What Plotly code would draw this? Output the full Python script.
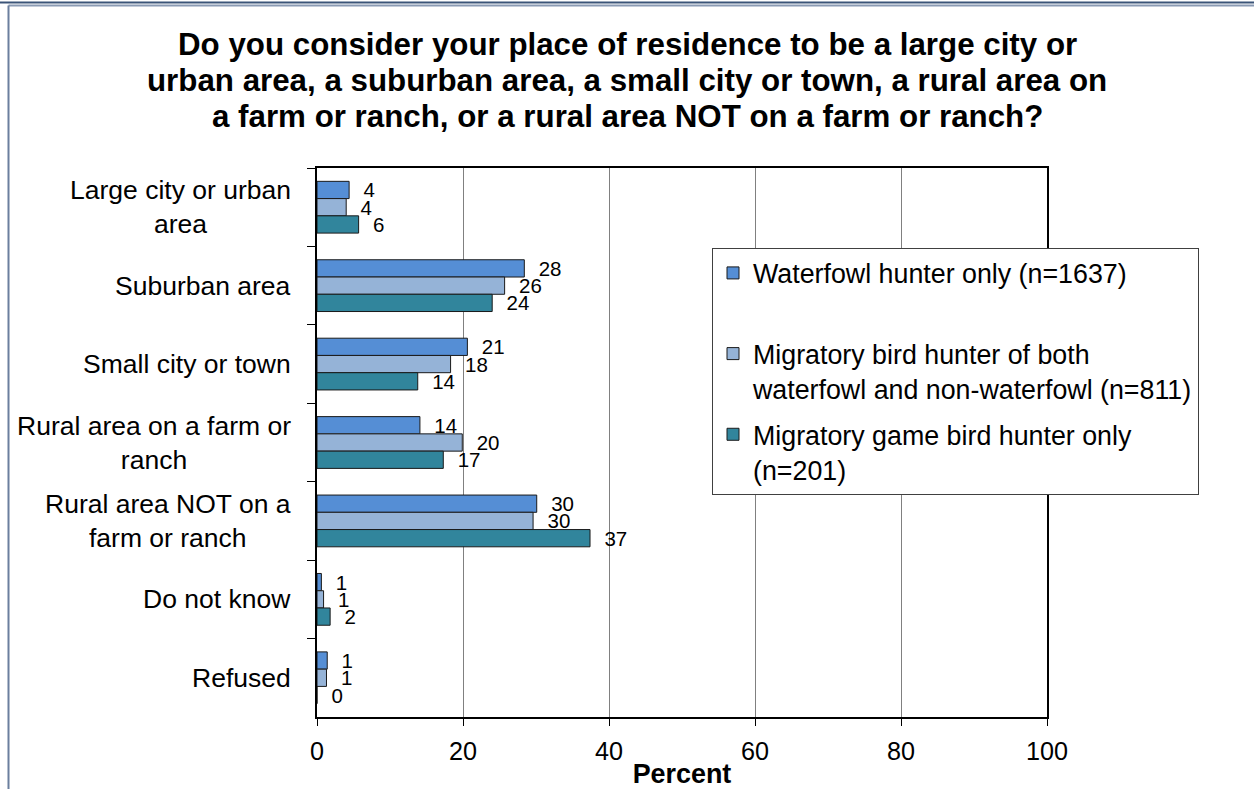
import plotly.graph_objects as go

# ---- data ----
categories = ["Large city or urban area", "Suburban area", "Small city or town",
              "Rural area on a farm or ranch", "Rural area NOT on a farm or ranch",
              "Do not know", "Refused"]
category_labels = ["Large city or urban<br>area", "Suburban area", "Small city or town",
                   "Rural area on a farm or<br>ranch", "Rural area NOT on a<br>farm or ranch",
                   "Do not know", "Refused"]
waterfowl_only = [4.4, 28.4, 20.6, 14.1, 30.1, 0.6, 1.4]
both_types = [4.0, 25.7, 18.3, 19.9, 29.6, 0.9, 1.3]
game_bird_only = [5.7, 24.0, 13.8, 17.3, 37.4, 1.8, 0.0]
series_names = ["Waterfowl hunter only (n=1637)<br>\u00a0",
                "Migratory bird hunter of both<br>waterfowl and non-waterfowl (n=811)",
                "Migratory game bird hunter only<br>(n=201)"]
series_colors = ["#558ED5", "#95B3D7", "#31859C"]
x_ticks = [0, 20, 40, 60, 80, 100]
title_lines = ["Do you consider your place of residence to be a large city or",
               "urban area, a suburban area, a small city or town, a rural area on",
               "a farm or ranch, or a rural area NOT on a farm or ranch?"]

FONT = "Liberation Sans, Arial, sans-serif"
W, H = 1254, 789
ML, MR, MT, MB = 317, 207, 168, 72
PW, PH = W - ML - MR, H - MT - MB


def px_x(px):
    return (px - ML) / PW


def px_y(py):
    return (H - MB - py) / PH


fig = go.Figure()
for name, vals, col in zip(series_names, [waterfowl_only, both_types, game_bird_only], series_colors):
    fig.add_trace(go.Bar(
        y=categories, x=vals, name=name, orientation="h",
        marker=dict(color=col, line=dict(color="#1a1a1a", width=1)),
        texttemplate="\u00a0\u00a0%{x:.0f}", textposition="outside",
        textfont=dict(family=FONT, size=20.5, color="black"),
        constraintext="none", cliponaxis=False, legendgroup=name,
    ))

annotations = []
for cat, lab in zip(categories, category_labels):
    annotations.append(dict(x=0, xref="paper", y=cat, yref="y", text=lab, showarrow=False,
                            xanchor="right", xshift=-24, align="center",
                            font=dict(family=FONT, size=26.5, color="black")))
for i, line in enumerate(title_lines):
    annotations.append(dict(x=px_x(627), xref="paper", y=px_y(45 + 35.7 * i), yref="paper",
                            text="<b>%s</b>" % line, showarrow=False,
                            xanchor="center", yanchor="middle",
                            font=dict(family=FONT, size=31.3, color="black")))

shapes = [
    dict(type="line", xref="paper", yref="paper", x0=px_x(0), x1=px_x(W), y0=px_y(2.5), y1=px_y(2.5),
         line=dict(color="#3b5478", width=2)),
    dict(type="line", xref="paper", yref="paper", x0=px_x(8.5), x1=px_x(W), y0=px_y(5.5), y1=px_y(5.5),
         line=dict(color="#8a9ab3", width=2)),
    dict(type="line", xref="paper", yref="paper", x0=px_x(8.5), x1=px_x(8.5), y0=px_y(5.5), y1=px_y(H),
         line=dict(color="#6b7f9e", width=2)),
]

fig.update_layout(
    width=W, height=H, autosize=False,
    margin=dict(l=ML, r=MR, t=MT, b=MB, pad=0),
    paper_bgcolor="white", plot_bgcolor="white",
    font=dict(family=FONT, color="black"),
    barmode="group", bargap=0.34, bargroupgap=0,
    showlegend=True,
    legend=dict(x=px_x(712), y=px_y(248), xanchor="left", yanchor="top",
                bgcolor="white", bordercolor="#404040", borderwidth=1,
                font=dict(family=FONT, size=26.8, color="black"),
                valign="top", tracegroupgap=8, traceorder="grouped"),
    annotations=annotations, shapes=shapes,
)
fig.update_xaxes(range=[0, 100], tickvals=x_ticks, showgrid=True, gridcolor="#808080", gridwidth=1,
                 zeroline=False, showline=True, linecolor="black", linewidth=2, mirror=True,
                 ticks="outside", ticklen=7, tickcolor="black", tickwidth=1, ticklabelstandoff=4,
                 automargin=False,
                 tickfont=dict(family=FONT, size=25.2, color="black"),
                 title=dict(text="<b>Percent</b>", font=dict(family=FONT, size=26.9, color="black"), standoff=0))
fig.update_yaxes(type="category", categoryorder="array", categoryarray=categories,
                 autorange="reversed", showticklabels=False, showgrid=False, zeroline=False,
                 showline=True, linecolor="black", linewidth=2, mirror=True, automargin=False,
                 ticks="outside", tickson="boundaries", ticklen=8, tickcolor="black", tickwidth=1)

fig.write_html("out.html", config={"displayModeBar": False},
               post_script="document.body.style.margin='0px';document.body.style.overflow='hidden';")
